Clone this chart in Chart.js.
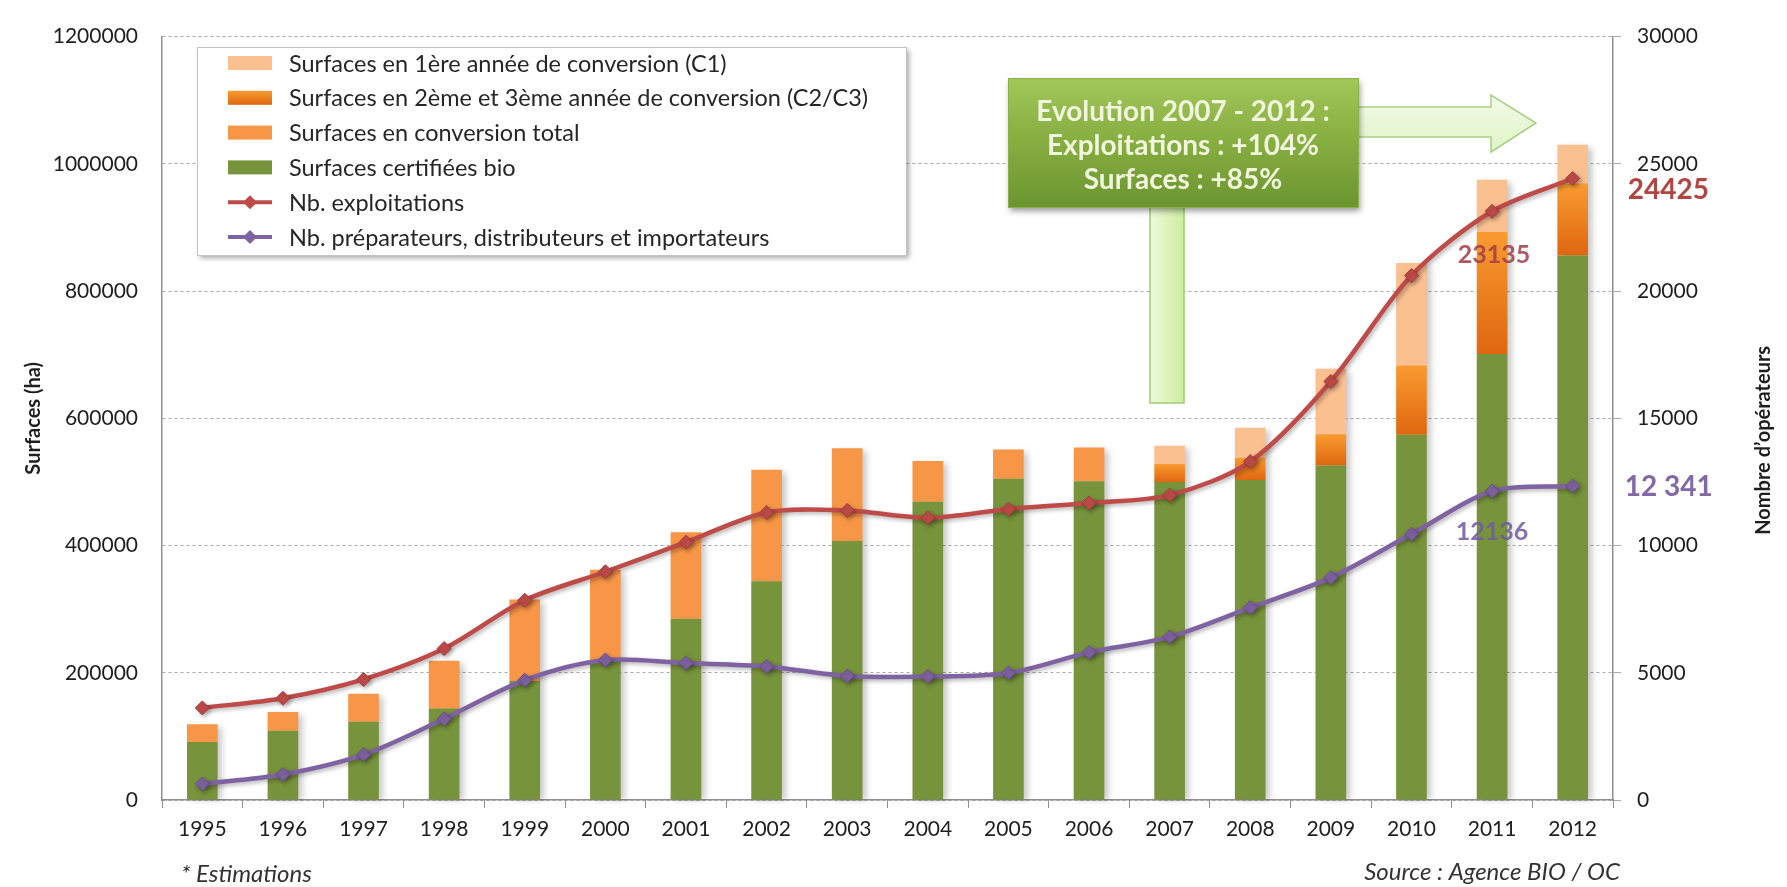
<!DOCTYPE html>
<html lang="fr">
<head>
<meta charset="utf-8">
<title>Agriculture biologique en France 1995-2012</title>
<script src="https://cdn.jsdelivr.net/npm/chart.js@4.4.1/dist/chart.umd.min.js"></script>
<style>
  html, body { margin: 0; padding: 0; background: #fff; }
  #wrap { position: relative; width: 1787px; height: 887px; }
</style>
</head>
<body>
<div id="wrap"><canvas id="bio" width="1787" height="887"></canvas></div>
<script>
// années
const years = ['1995', '1996', '1997', '1998', '1999', '2000', '2001', '2002', '2003',
  '2004', '2005', '2006', '2007', '2008', '2009', '2010', '2011', '2012'];

// surfaces (ha)
const surfBio = [91000, 109000, 123000, 144000, 187000, 220000, 285000, 344000, 407000,
  469000, 505000, 501000, 500000, 503000, 526000, 574000, 701000, 856000];
const surfConvTotal = [28000, 29500, 44000, 75000, 128000, 142000, 136000, 175000, 146000,
  64000, 46000, 53000, null, null, null, null, null, null];
const surfC2C3 = [null, null, null, null, null, null, null, null, null,
  null, null, null, 28000, 35000, 49000, 109000, 192000, 113000];
const surfC1 = [null, null, null, null, null, null, null, null, null,
  null, null, null, 29000, 47000, 103000, 161000, 82000, 61000];

// nombre d'opérateurs
const nbExploitations = [3620, 4000, 4740, 5950, 7850, 8970, 10130, 11300, 11380,
  11090, 11430, 11670, 11980, 13300, 16450, 20610, 23135, 24425];
const nbPreparateurs = [630, 1000, 1780, 3190, 4710, 5500, 5380, 5250, 4870,
  4850, 4990, 5800, 6410, 7560, 8740, 10450, 12136, 12341];

// graduations
const surfTicks = [0, 200000, 400000, 600000, 800000, 1000000, 1200000];
const opTicks = [0, 5000, 10000, 15000, 20000, 25000, 30000];

const GREEN = '#77933c';
const ORANGE = '#f79646';
const PEACH = '#fac090';
const RED = '#be4b48';
const PURPLE = '#7e62a1';
const GRID = '#a9a9a9';
const AXIS = '#8f8f8f';
const TEXT = '#1e1e1e';

Chart.defaults.font.family = 'Lato, "Open Sans", sans-serif';
Chart.defaults.color = TEXT;

const stackTotal = years.map((_, i) =>
  [surfBio, surfConvTotal, surfC2C3, surfC1].reduce((s, arr) => s + (arr[i] || 0), 0));

// dégradé vertical des surfaces C2/C3, calé sur chaque segment
function c2c3Fill(context) {
  const chart = context.chart;
  const y = chart.scales.y;
  const i = context.dataIndex;
  if (!y || context.type !== 'data' || surfC2C3[i] == null) return '#ef8321';
  const top = y.getPixelForValue(surfBio[i] + surfC2C3[i]);
  const bottom = y.getPixelForValue(surfBio[i]);
  const g = chart.ctx.createLinearGradient(0, top, 0, bottom);
  g.addColorStop(0, '#f99b30');
  g.addColorStop(1, '#df670f');
  return g;
}

const fmtSpace = v => String(v).replace(/\B(?=(\d{3})+(?!\d))/g, ' ');

function diamond(ctx, x, y, r, color) {
  ctx.beginPath();
  ctx.moveTo(x, y - r);
  ctx.lineTo(x + r, y);
  ctx.lineTo(x, y + r);
  ctx.lineTo(x - r, y);
  ctx.closePath();
  ctx.fillStyle = color;
  ctx.fill();
}

function drawLegend(chart) {
  const ctx = chart.ctx;
  const order = [3, 2, 1, 0, 4, 5];
  const bx = 197, by = 47, bw = 709, bh = 208;
  ctx.save();
  ctx.shadowColor = 'rgba(0,0,0,0.35)';
  ctx.shadowBlur = 5;
  ctx.shadowOffsetX = 3;
  ctx.shadowOffsetY = 3;
  ctx.fillStyle = '#fff';
  ctx.fillRect(bx, by, bw, bh);
  ctx.restore();
  ctx.save();
  ctx.strokeStyle = '#c4c4c4';
  ctx.lineWidth = 1;
  ctx.strokeRect(bx + 0.5, by + 0.5, bw, bh);

  order.forEach((di, row) => {
    const ds = chart.data.datasets[di];
    const cy = 63 + row * 34.8;
    if (ds.type === 'line') {
      ctx.strokeStyle = ds.borderColor;
      ctx.lineWidth = 4;
      ctx.beginPath();
      ctx.moveTo(228, cy);
      ctx.lineTo(272, cy);
      ctx.stroke();
      diamond(ctx, 250, cy, 7, ds.borderColor);
    } else {
      let fill = ds.legendFill;
      if (di === 2) {
        fill = ctx.createLinearGradient(0, cy - 7, 0, cy + 7);
        fill.addColorStop(0, '#f99b30');
        fill.addColorStop(1, '#df670f');
      }
      ctx.fillStyle = fill;
      ctx.fillRect(228, cy - 7, 44, 14);
    }
    ctx.fillStyle = '#262626';
    ctx.font = '23.5px Lato, sans-serif';
    ctx.textAlign = 'left';
    ctx.textBaseline = 'middle';
    ctx.fillText(ds.label, 289, cy + 1);
  });
  ctx.restore();
}

function drawCallout(ctx) {
  ctx.save();
  // tige verticale sous l'encadré
  let g = ctx.createLinearGradient(1150, 0, 1184, 0);
  g.addColorStop(0, '#eefadb');
  g.addColorStop(1, '#cdeea0');
  ctx.fillStyle = g;
  ctx.strokeStyle = '#9fcc70';
  ctx.lineWidth = 1.5;
  ctx.fillRect(1150, 200, 34, 203);
  ctx.strokeRect(1150, 200, 34, 203);

  // flèche vers 2012
  g = ctx.createLinearGradient(0, 95, 0, 152);
  g.addColorStop(0, '#f3fbe8');
  g.addColorStop(1, '#dff4c6');
  ctx.fillStyle = g;
  ctx.beginPath();
  ctx.moveTo(1350, 107);
  ctx.lineTo(1491, 107);
  ctx.lineTo(1491, 95);
  ctx.lineTo(1536, 123);
  ctx.lineTo(1491, 152);
  ctx.lineTo(1491, 137);
  ctx.lineTo(1350, 137);
  ctx.closePath();
  ctx.fill();
  ctx.strokeStyle = '#a6cf84';
  ctx.stroke();

  // encadré vert
  ctx.save();
  ctx.shadowColor = 'rgba(0,0,0,0.4)';
  ctx.shadowBlur = 6;
  ctx.shadowOffsetX = 2;
  ctx.shadowOffsetY = 4;
  g = ctx.createLinearGradient(0, 78, 0, 207);
  g.addColorStop(0, '#a2c75a');
  g.addColorStop(0.5, '#86ad40');
  g.addColorStop(1, '#6b9530');
  ctx.fillStyle = g;
  ctx.fillRect(1008, 78, 350, 129);
  ctx.restore();
  ctx.strokeStyle = '#8bb04a';
  ctx.lineWidth = 1;
  ctx.strokeRect(1008.5, 78.5, 350, 129);

  ctx.fillStyle = '#f1f6de';
  ctx.font = 'bold 28px Lato, sans-serif';
  ctx.textAlign = 'center';
  ctx.textBaseline = 'middle';
  ctx.fillText('Evolution 2007 - 2012 :', 1183, 112);
  ctx.fillText('Exploitations : +104%', 1183, 146);
  ctx.fillText('Surfaces : +85%', 1183, 180);
  ctx.restore();
}

function drawValueLabels(chart) {
  const ctx = chart.ctx;
  const x = chart.scales.x;
  const y1 = chart.scales.y1;
  const last = years.length - 1;
  const prev = last - 1;
  ctx.save();
  ctx.textBaseline = 'middle';

  ctx.font = 'bold 28px Lato, sans-serif';
  ctx.textAlign = 'left';
  ctx.fillStyle = '#b04542';
  ctx.fillText(String(nbExploitations[last]), x.getPixelForValue(last) + 55,
    y1.getPixelForValue(nbExploitations[last]) + 12);
  ctx.fillStyle = '#8268a6';
  ctx.fillText(fmtSpace(nbPreparateurs[last]), x.getPixelForValue(last) + 52,
    y1.getPixelForValue(nbPreparateurs[last]) + 1);

  ctx.font = 'bold 25px Lato, sans-serif';
  ctx.textAlign = 'center';
  ctx.fillStyle = 'rgba(160, 60, 70, 0.85)';
  ctx.fillText(String(nbExploitations[prev]), x.getPixelForValue(prev) + 2,
    y1.getPixelForValue(nbExploitations[prev]) + 44);
  ctx.fillStyle = 'rgba(110, 90, 160, 0.85)';
  ctx.fillText(String(nbPreparateurs[prev]), x.getPixelForValue(prev),
    y1.getPixelForValue(nbPreparateurs[prev]) + 41);
  ctx.restore();
}

function drawTitlesAndNotes(chart) {
  const ctx = chart.ctx;
  const a = chart.chartArea;
  const midY = (a.top + a.bottom) / 2;
  ctx.save();
  ctx.fillStyle = TEXT;
  ctx.font = 'bold 20px Lato, sans-serif';
  ctx.textAlign = 'center';
  ctx.textBaseline = 'middle';
  ctx.translate(34, midY);
  ctx.rotate(-Math.PI / 2);
  ctx.fillText('Surfaces (ha)', 0, 0);
  ctx.restore();

  ctx.save();
  ctx.fillStyle = TEXT;
  ctx.font = 'bold 20px Lato, sans-serif';
  ctx.textAlign = 'center';
  ctx.textBaseline = 'middle';
  ctx.translate(1764, midY + 22);
  ctx.rotate(-Math.PI / 2);
  ctx.fillText('Nombre d\u2019opérateurs', 0, 0);
  ctx.restore();

  ctx.save();
  ctx.fillStyle = '#333';
  ctx.font = 'italic 24px Lato, sans-serif';
  ctx.textBaseline = 'middle';
  ctx.textAlign = 'left';
  ctx.fillText('* Estimations', 181, 874);
  ctx.textAlign = 'right';
  ctx.fillText('Source : Agence BIO / OC', 1620, 872);
  ctx.restore();
}

const decor = {
  id: 'decor',
  beforeDatasetsDraw(chart) {
    // ombre portée des barres empilées
    const ctx = chart.ctx;
    const y = chart.scales.y;
    const meta = chart.getDatasetMeta(0);
    const base = y.getPixelForValue(0);
    ctx.save();
    ctx.fillStyle = 'rgba(0,0,0,0.22)';
    ctx.filter = 'blur(3px)';
    meta.data.forEach((el, i) => {
      const top = y.getPixelForValue(stackTotal[i]);
      ctx.fillRect(el.x - el.width / 2 + 4, top + 3, el.width, base - top - 3);
    });
    ctx.restore();
  },
  beforeDatasetDraw(chart, args) {
    if (chart.data.datasets[args.index].type !== 'line') return;
    const ctx = chart.ctx;
    ctx.save();
    ctx.shadowColor = 'rgba(0,0,0,0.3)';
    ctx.shadowBlur = 4;
    ctx.shadowOffsetX = 2;
    ctx.shadowOffsetY = 2;
  },
  afterDatasetDraw(chart, args) {
    if (chart.data.datasets[args.index].type !== 'line') return;
    chart.ctx.restore();
  },
  afterDraw(chart) {
    drawLegend(chart);
    drawCallout(chart.ctx);
    drawValueLabels(chart);
    drawTitlesAndNotes(chart);
  }
};

const barCommon = {
  type: 'bar',
  yAxisID: 'y',
  order: 2,
  barPercentage: 0.38,
  categoryPercentage: 1,
  borderWidth: 0
};

const lineCommon = {
  type: 'line',
  yAxisID: 'y1',
  order: 0,
  borderWidth: 4.5,
  tension: 0.3,
  pointStyle: 'rectRot',
  pointRadius: 7,
  pointBorderWidth: 1,
  fill: false
};

new Chart(document.getElementById('bio'), {
  data: {
    labels: years,
    datasets: [
      { ...barCommon, label: 'Surfaces certifiées bio', data: surfBio,
        backgroundColor: GREEN, legendFill: GREEN },
      { ...barCommon, label: 'Surfaces en conversion total', data: surfConvTotal,
        backgroundColor: ORANGE, legendFill: ORANGE },
      { ...barCommon, label: 'Surfaces en 2ème et 3ème année de conversion (C2/C3)', data: surfC2C3,
        backgroundColor: c2c3Fill, legendFill: '#ef8321' },
      { ...barCommon, label: 'Surfaces en 1ère année de conversion (C1)', data: surfC1,
        backgroundColor: PEACH, legendFill: PEACH },
      { ...lineCommon, label: 'Nb. exploitations', data: nbExploitations,
        borderColor: RED, backgroundColor: RED, pointBorderColor: '#a83c3a' },
      { ...lineCommon, label: 'Nb. préparateurs, distributeurs et importateurs', data: nbPreparateurs,
        borderColor: PURPLE, backgroundColor: PURPLE, pointBorderColor: '#6a4f8c' }
    ]
  },
  options: {
    responsive: false,
    animation: false,
    layout: { padding: { top: 20, left: 0, right: 0, bottom: 0 } },
    plugins: {
      legend: { display: false },
      tooltip: { enabled: false }
    },
    scales: {
      x: {
        stacked: true,
        offset: true,
        grid: { display: true, drawOnChartArea: false, drawTicks: true, tickLength: 8,
          offset: true, color: AXIS },
        border: { display: true, color: AXIS, width: 1.5 },
        ticks: { font: { size: 21 }, padding: 9, maxRotation: 0, autoSkip: false, color: TEXT },
        afterFit: s => { s.height = 87; }
      },
      y: {
        stacked: true,
        position: 'left',
        min: 0,
        max: 1200000,
        afterBuildTicks: s => { s.ticks = surfTicks.map(v => ({ value: v })); },
        ticks: { callback: v => String(v), padding: 24, font: { size: 21 }, color: TEXT },
        grid: { color: GRID, lineWidth: 1, drawTicks: false },
        border: { display: true, color: AXIS, width: 1.5, dash: [3, 3] },
        afterFit: s => { s.width = 162; }
      },
      y1: {
        position: 'right',
        min: 0,
        max: 30000,
        afterBuildTicks: s => { s.ticks = opTicks.map(v => ({ value: v })); },
        ticks: { callback: v => String(v), padding: 16, font: { size: 21 }, color: TEXT },
        grid: { drawOnChartArea: false, drawTicks: true, tickLength: 8, color: GRID },
        border: { display: true, color: AXIS, width: 1.5 },
        afterFit: s => { s.width = 174; }
      }
    }
  },
  plugins: [decor]
});
</script>
</body>
</html>
